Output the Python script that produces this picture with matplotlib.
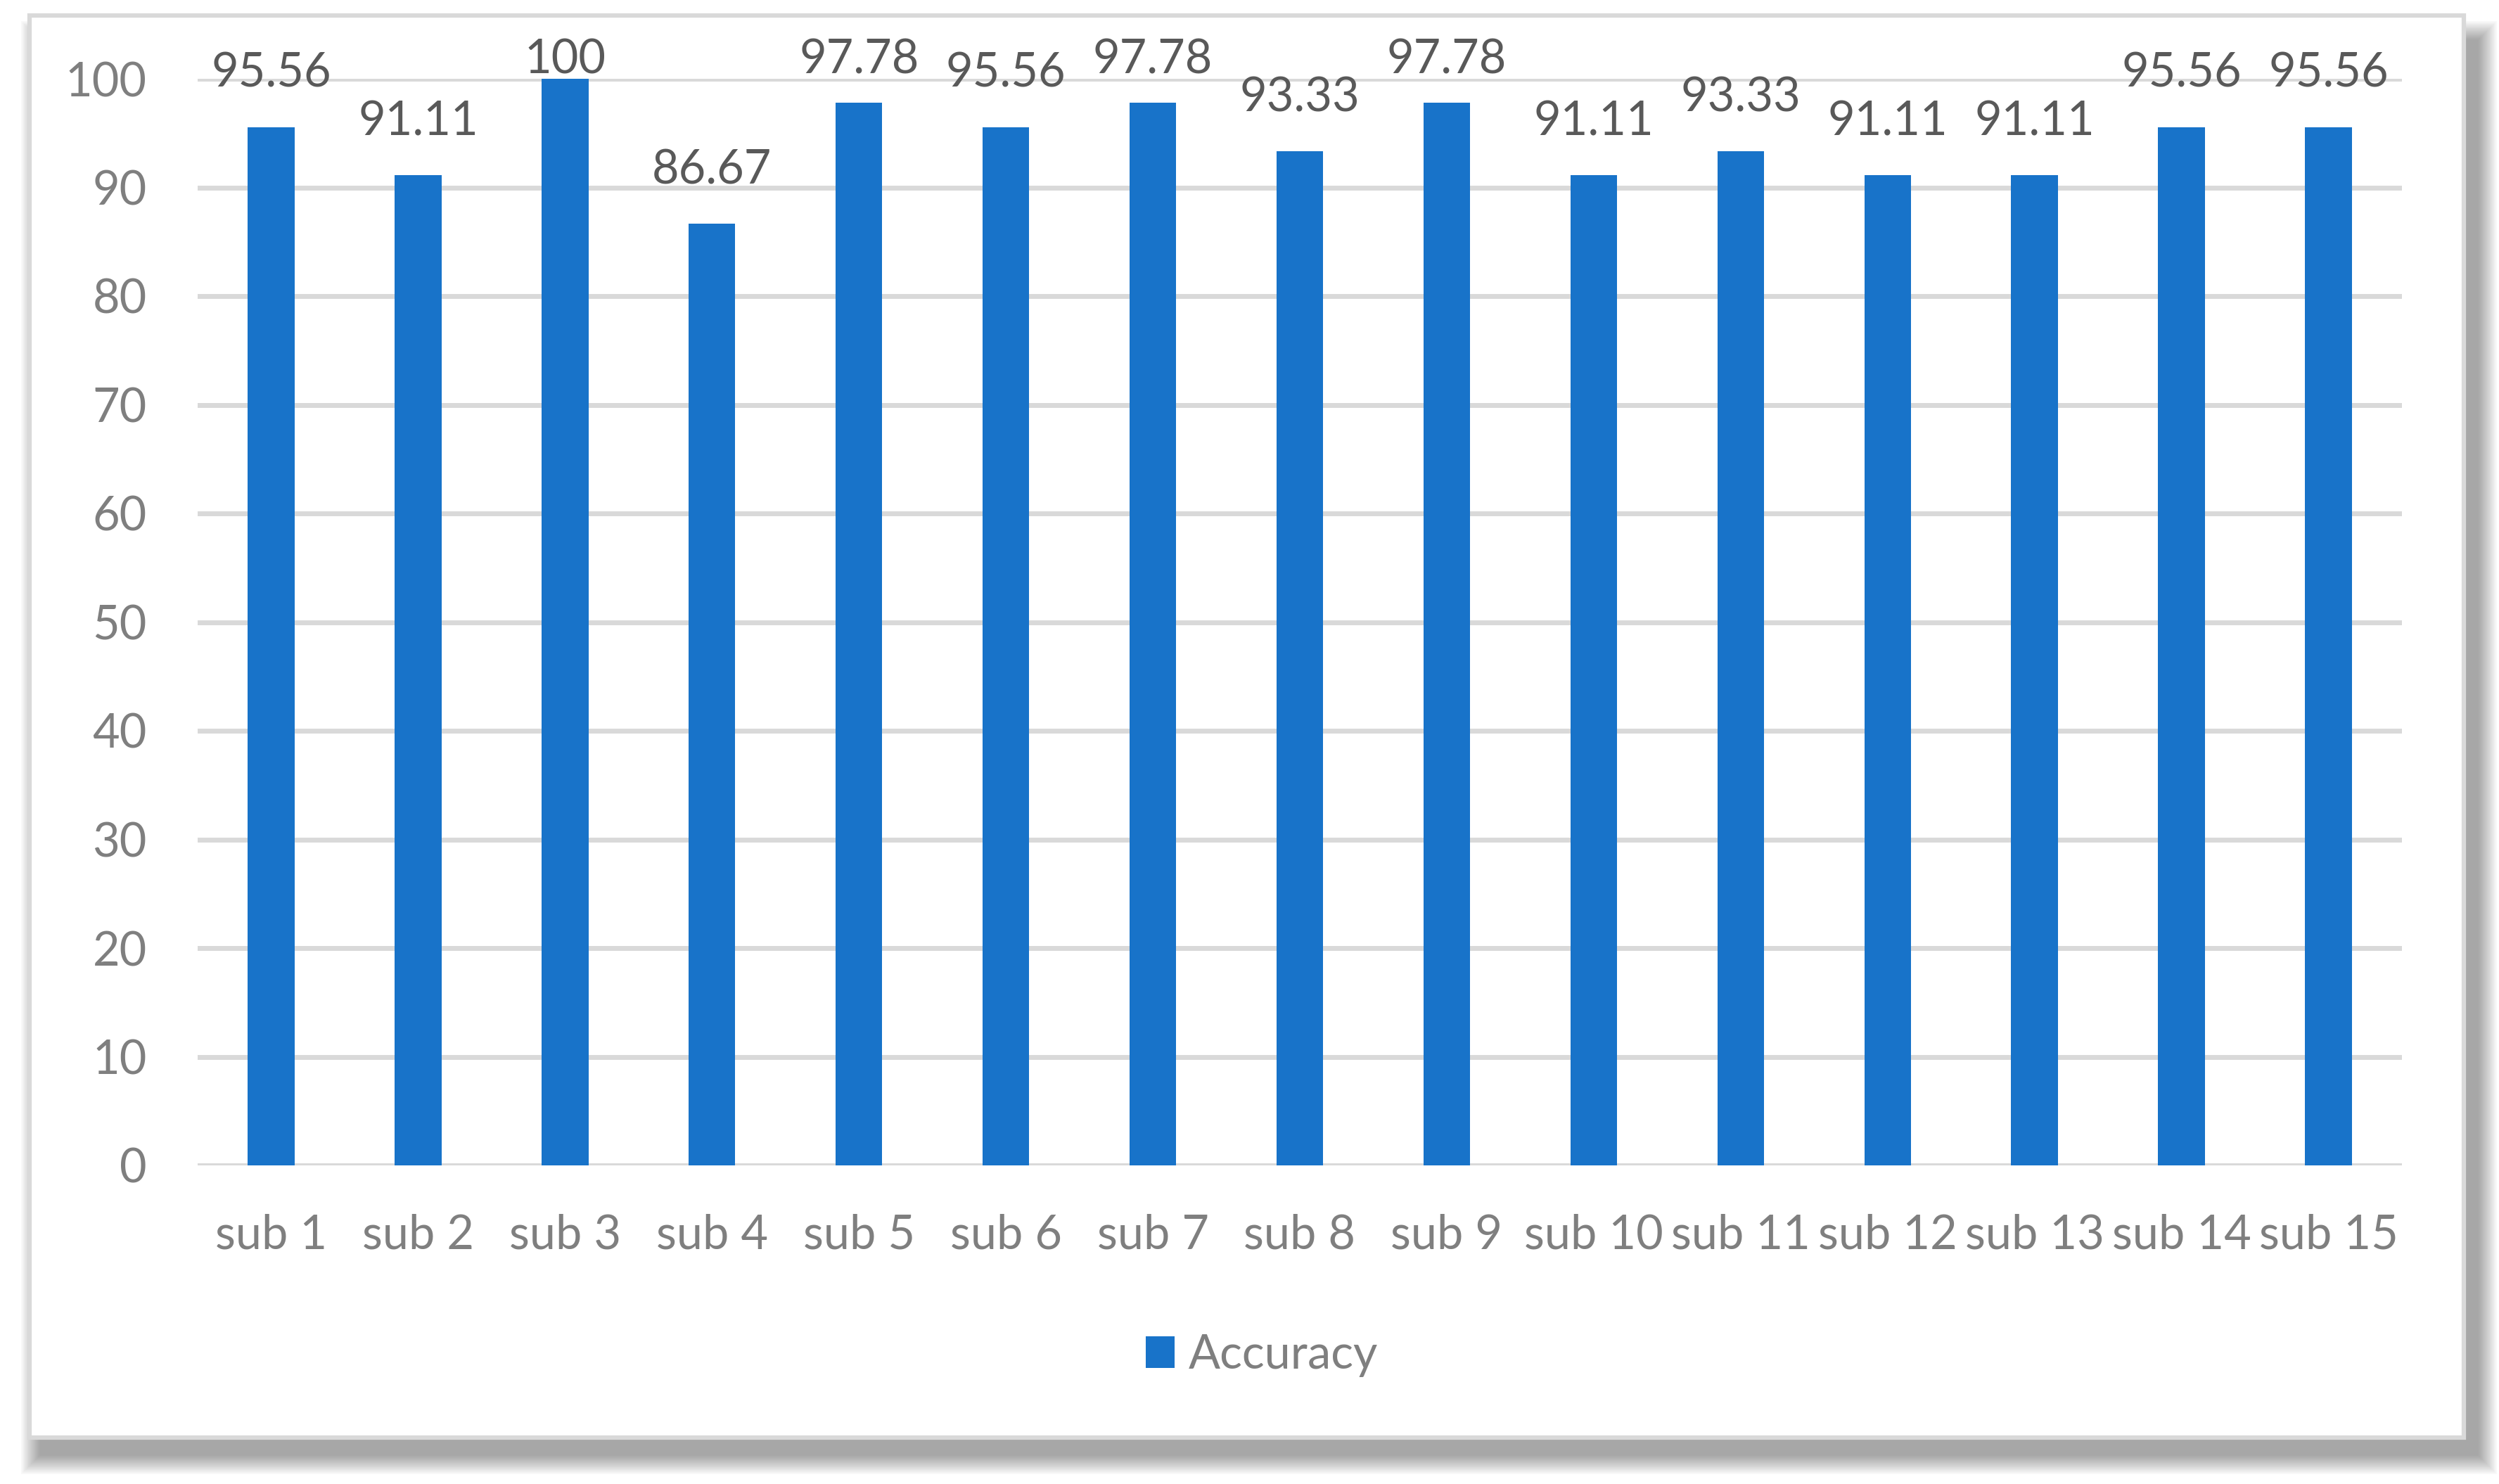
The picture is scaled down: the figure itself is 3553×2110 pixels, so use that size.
import numpy as np
import matplotlib.pyplot as plt
from matplotlib.patches import Rectangle

# data
subjects = ['sub %d' % i for i in range(1, 16)]
accuracy = [95.56, 91.11, 100, 86.67, 97.78, 95.56, 97.78, 93.33,
            97.78, 91.11, 93.33, 91.11, 91.11, 95.56, 95.56]
y_ticks = list(range(0, 101, 10))

W, H = 3553, 2110
plt.rcParams['font.family'] = ['Lato', 'DejaVu Sans']
fig = plt.figure(figsize=(W / 100, H / 100), dpi=100)

# soft shadow behind the chart frame (mostly bottom / right)
n = 14
for k in range(n):
    grow = (n - k) * 2.0
    fig.patches.append(Rectangle(((58 - grow) / W, 1 - (2068 + grow) / H),
                                 (3464 + 2 * grow) / W, (2010 + 2 * grow) / H,
                                 transform=fig.transFigure, facecolor='black',
                                 edgecolor='none', alpha=0.028, zorder=0))
# chart frame
fig.patches.append(Rectangle((42 / W, 1 - 2044 / H), 3461 / W, 2022 / H,
                             transform=fig.transFigure, facecolor='white',
                             edgecolor='#D9D9D9', linewidth=4.5, zorder=1))

ax = fig.add_axes([281 / W, 1 - 1657 / H, (3415 - 281) / W, (1657 - 112) / H])
ax.set_zorder(2)
ax.patch.set_visible(False)

x = np.arange(len(subjects))
bars = ax.bar(x, accuracy, width=0.318, color='#1873C9', label='Accuracy', zorder=3)

ax.set_xlim(-0.5, len(subjects) - 0.5)
ax.set_ylim(0, 100)
ax.set_yticks(y_ticks)
ax.set_xticks(x)
ax.set_xticklabels(subjects)
ax.yaxis.grid(True, color='#D9D9D9', linewidth=5)
ax.set_axisbelow(True)
for s in ax.spines.values():
    s.set_visible(False)
ax.tick_params(axis='y', length=0, pad=52, labelsize=48, labelcolor='#7F7F7F')
ax.tick_params(axis='x', length=0, pad=49, labelsize=48, labelcolor='#7F7F7F')

# data labels (Excel keeps them inside the chart area at the top)
for i, v in enumerate(accuracy):
    ax.annotate('%g' % v, (i, min(v, 96.83)), xytext=(0, 41),
                textcoords='offset points', ha='center', va='baseline',
                fontsize=48, color='#595959', zorder=4)

fig.legend(handles=[bars], labels=['Accuracy'], loc='center',
           bbox_to_anchor=(1794 / W, 1 - 1927 / H), frameon=False,
           fontsize=48, labelcolor='#7F7F7F', handlelength=0.62,
           handleheight=0.65, handletextpad=0.3)

fig.savefig('out.png', dpi=100, facecolor='white')
